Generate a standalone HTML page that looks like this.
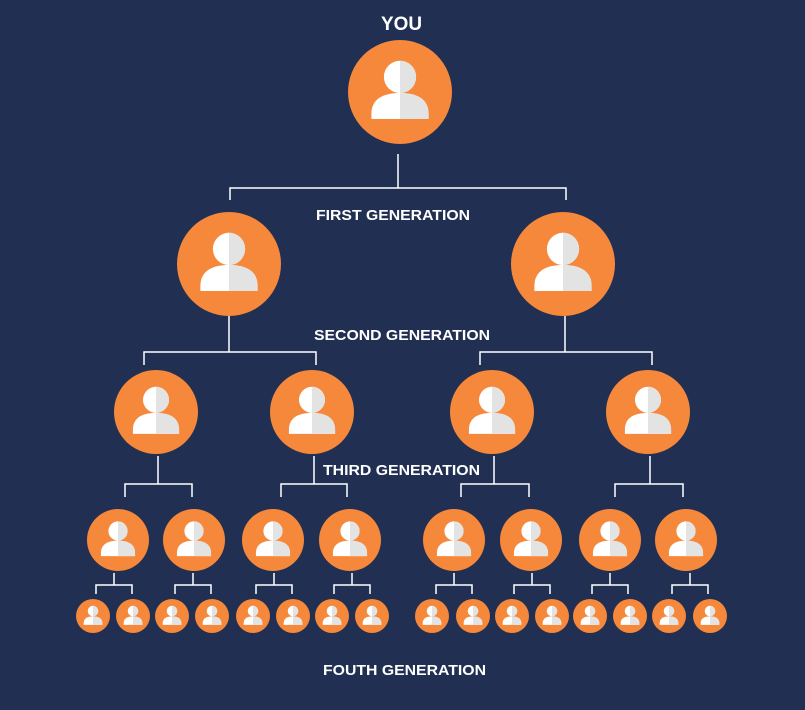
<!DOCTYPE html>
<html><head><style>html,body{margin:0;padding:0;background:#213052;}svg{display:block}</style></head>
<body>
<svg width="805" height="710" viewBox="0 0 805 710" xmlns="http://www.w3.org/2000/svg">
<defs>
<clipPath id="rh"><rect x="0" y="-1" width="1" height="2"/></clipPath>
<symbol id="p" viewBox="-1 -1 2 2" overflow="visible">
<circle r="1" fill="#F5883A"/>
<g fill="#ffffff">
<circle cx="0" cy="-0.29" r="0.31"/>
<path d="M-0.55 0.52 L-0.55 0.42 C-0.55 0.12 -0.3 0.02 0 0.02 C0.3 0.02 0.55 0.12 0.55 0.42 L0.55 0.52 Z"/>
</g>
<g fill="#E3E3E3" clip-path="url(#rh)">
<circle cx="0" cy="-0.29" r="0.31"/>
<path d="M-0.55 0.52 L-0.55 0.42 C-0.55 0.12 -0.3 0.02 0 0.02 C0.3 0.02 0.55 0.12 0.55 0.42 L0.55 0.52 Z"/>
</g>
</symbol>
</defs>
<g stroke="#ffffff" stroke-width="1.5" fill="none">
<path d="M398 154V188M230 200V188H566V200"/>
<path d="M229 316V352M144 365V352H316V365M565 316V352M480 365V352H652V365"/>
<path d="M158 456V484M125 497V484H192V497M314 456V484M281 497V484H347V497M494 456V484M461 497V484H529V497M650 456V484M615 497V484H683V497"/>
<path d="M114 573V585M96 594V585H132V594M193 573V585M175 594V585H211V594M274 573V585M256 594V585H292V594M352 573V585M334 594V585H370V594M454 573V585M436 594V585H472V594M532 573V585M514 594V585H550V594M610 573V585M592 594V585H628V594M690 573V585M672 594V585H708V594"/>
</g>
<use href="#p" x="348" y="40" width="104" height="104"/>
<use href="#p" x="177" y="212" width="104" height="104"/>
<use href="#p" x="511" y="212" width="104" height="104"/>
<use href="#p" x="114" y="370" width="84" height="84"/>
<use href="#p" x="270" y="370" width="84" height="84"/>
<use href="#p" x="450" y="370" width="84" height="84"/>
<use href="#p" x="606" y="370" width="84" height="84"/>
<g>
<use href="#p" x="87" y="509" width="62" height="62"/>
<use href="#p" x="163" y="509" width="62" height="62"/>
<use href="#p" x="242" y="509" width="62" height="62"/>
<use href="#p" x="319" y="509" width="62" height="62"/>
<use href="#p" x="423" y="509" width="62" height="62"/>
<use href="#p" x="500" y="509" width="62" height="62"/>
<use href="#p" x="579" y="509" width="62" height="62"/>
<use href="#p" x="655" y="509" width="62" height="62"/>
</g>
<g>
<use href="#p" x="76" y="599" width="34" height="34"/>
<use href="#p" x="116" y="599" width="34" height="34"/>
<use href="#p" x="155" y="599" width="34" height="34"/>
<use href="#p" x="195" y="599" width="34" height="34"/>
<use href="#p" x="236" y="599" width="34" height="34"/>
<use href="#p" x="276" y="599" width="34" height="34"/>
<use href="#p" x="315" y="599" width="34" height="34"/>
<use href="#p" x="355" y="599" width="34" height="34"/>
<use href="#p" x="415" y="599" width="34" height="34"/>
<use href="#p" x="456" y="599" width="34" height="34"/>
<use href="#p" x="495" y="599" width="34" height="34"/>
<use href="#p" x="535" y="599" width="34" height="34"/>
<use href="#p" x="573" y="599" width="34" height="34"/>
<use href="#p" x="613" y="599" width="34" height="34"/>
<use href="#p" x="652" y="599" width="34" height="34"/>
<use href="#p" x="693" y="599" width="34" height="34"/>
</g>
<g fill="#ffffff" font-family="Liberation Sans, Arial, sans-serif" font-weight="bold">
<text x="381" y="30" font-size="19" textLength="41" lengthAdjust="spacingAndGlyphs">YOU</text>
<text x="316" y="220" font-size="15" textLength="154" lengthAdjust="spacingAndGlyphs">FIRST GENERATION</text>
<text x="314" y="340" font-size="15" textLength="176" lengthAdjust="spacingAndGlyphs">SECOND GENERATION</text>
<text x="323" y="475" font-size="15" textLength="157" lengthAdjust="spacingAndGlyphs">THIRD GENERATION</text>
<text x="323" y="675" font-size="15" textLength="163" lengthAdjust="spacingAndGlyphs">FOUTH GENERATION</text>
</g>
</svg>
</body></html>
